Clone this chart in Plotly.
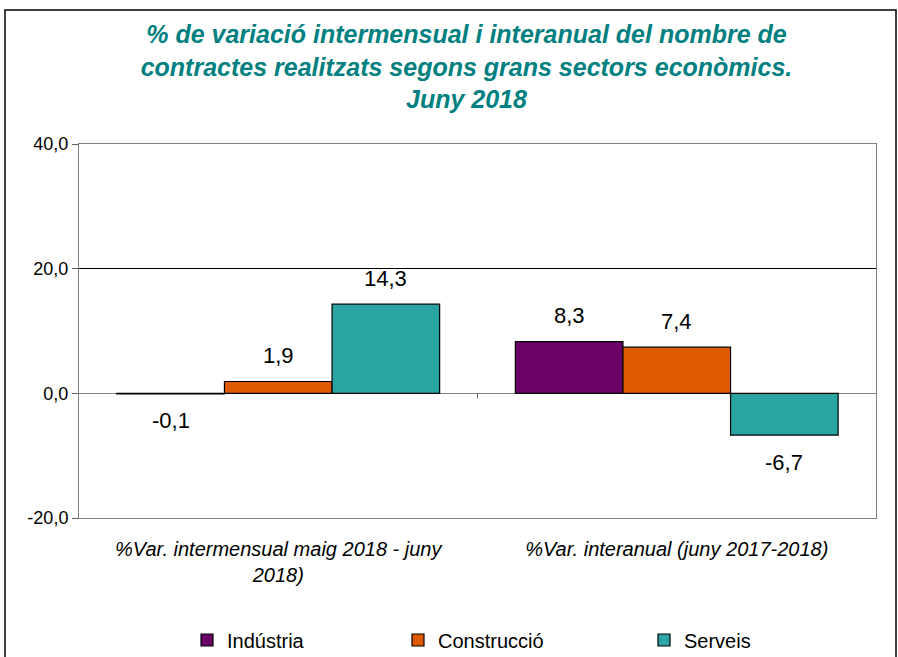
import plotly.graph_objects as go

categories = ["%Var. intermensual maig 2018 - juny<br>2018)", "%Var. interanual (juny 2017-2018)"]
series_names = ["Indústria", "Construcció", "Serveis"]
industria = [-0.1, 8.3]
construccio = [1.9, 7.4]
serveis = [14.3, -6.7]
y_ticks = [-20, 0, 20, 40]
y_tick_labels = [f"{v:.1f}".replace(".", ",") for v in y_ticks]

values = [industria, construccio, serveis]
colors = ["#6a0068", "#e05a00", "#2aa3a3"]
FONT = "Liberation Sans, Arial, sans-serif"

W, H = 898, 657
ml, mr, mt, mb = 79, 22, 144, 139
pw, ph = W - ml - mr, H - mt - mb
def px_x(p):
    return (p - ml) / pw
def px_y(p):
    return (H - mb - p) / ph

legend_names = ["legend", "legend2", "legend3"]
legend_px = [187, 398, 644]

fig = go.Figure()
for name, vals, col, lg in zip(series_names, values, colors, legend_names):
    fig.add_trace(go.Bar(
        x=categories, y=vals, name=name, legend=lg,
        marker=dict(color=col, line=dict(color="black", width=1.2)),
    ))

# data labels
bar_px = 107
for i, vals in enumerate(values):
    for cat, v in zip(categories, vals):
        txt = f"{v:.1f}".replace(".", ",")
        fig.add_annotation(
            x=cat, y=v, xref="x", yref="y", text=txt, showarrow=False,
            xshift=(i - 1) * bar_px,
            yanchor="middle",
            yshift=26 if v >= 0 else -27,
            font=dict(family=FONT, size=22, color="black"),
        )

# small tick mark on the zero line between categories
fig.add_shape(type="line", xref="x", yref="y", x0=0.5, x1=0.5, y0=0, y1=-0.8,
              line=dict(color="#606060", width=1))

# outer frame
fig.add_shape(type="rect", xref="paper", yref="paper",
              x0=px_x(5), x1=px_x(896), y0=px_y(664), y1=px_y(10),
              line=dict(color="black", width=1.5), fillcolor="rgba(0,0,0,0)", layer="above")

legend_common = dict(
    orientation="h", yanchor="middle", y=px_y(640), xanchor="left",
    font=dict(family=FONT, size=20, color="black"),
    bgcolor="rgba(0,0,0,0)",
)
layout_legends = {}
for lg, lx in zip(legend_names, legend_px):
    layout_legends[lg] = dict(legend_common, x=px_x(lx))

fig.update_layout(
    width=W, height=H,
    margin=dict(l=ml, r=mr, t=mt, b=mb, autoexpand=False),
    paper_bgcolor="white", plot_bgcolor="white",
    separators=",.",
    barmode="group", bargap=0.19, bargroupgap=0,
    font=dict(family=FONT, color="black"),
    title=dict(
        text="% de variació intermensual i interanual del nombre de<br>contractes realitzats segons grans sectors econòmics.<br>Juny 2018",
        x=px_x(493), xanchor="center", y=1 - 43 / H, yanchor="top",
        font=dict(family=FONT, size=25, color="#008080", weight="bold", style="italic"),
    ),
    showlegend=True,
    **layout_legends,
)
fig.update_yaxes(
    range=[-20, 40], tickvals=y_ticks, ticktext=y_tick_labels,
    showgrid=True, gridcolor="black", gridwidth=1,
    zeroline=True, zerolinecolor="#808080", zerolinewidth=1.2,
    showline=True, linecolor="#808080", linewidth=1, mirror=True,
    ticks="outside", ticklen=6, tickcolor="#606060",
    tickfont=dict(family=FONT, size=18, color="black"),
)
fig.update_xaxes(
    showline=True, linecolor="#808080", linewidth=1, mirror=True,
    ticks="outside", ticklen=13, tickcolor="rgba(0,0,0,0)",
    tickfont=dict(family=FONT, size=20, color="black", style="italic"),
)

fig.write_html("out.html", config={"displayModeBar": False},
               post_script="document.body.style.margin='0';")
